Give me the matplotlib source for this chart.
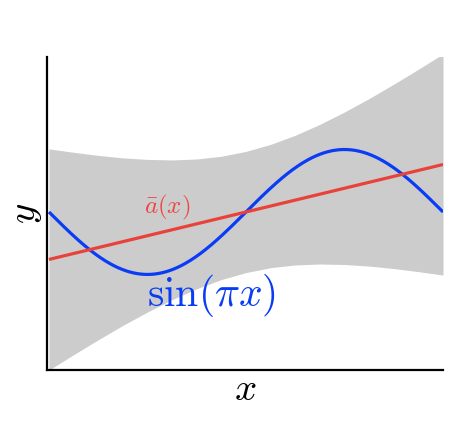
import numpy as np
import matplotlib
matplotlib.use("Agg")
import matplotlib.pyplot as plt

plt.rcParams['mathtext.fontset'] = 'cm'

# band (upper / lower edge at these x)
band_x = np.linspace(-1, 1, 17)
band_up = [1.01, 0.955, 0.906, 0.866, 0.841, 0.833, 0.848, 0.892, 0.97,
           1.082, 1.228, 1.403, 1.601, 1.816, 2.046, 2.285, 2.53]
band_lo = [-2.53, -2.285, -2.046, -1.816, -1.601, -1.403, -1.228, -1.082, -0.97,
           -0.892, -0.848, -0.833, -0.841, -0.866, -0.906, -0.955, -1.01]

# mean line a(x), end points
a_x = [-1, 1]
a_y = [-0.76, 0.76]

# the true function
xs = np.linspace(-1, 1, 400)
ys = np.sin(np.pi * xs)

red = '#e8423a'
blue = '#0a3cf5'

fig = plt.figure(figsize=(4.72, 4.29), dpi=100)
ax = fig.add_axes([0.0996, 0.1375, 0.839, 0.7295])

ax.fill_between(band_x, band_lo, band_up, color='#cccccc', lw=0)
ax.plot(xs, ys, color=blue, lw=2.3, solid_capstyle='butt')
ax.plot(a_x, a_y, color=red, lw=2.3, solid_capstyle='butt')

ax.text(-0.52, 0.08, r'$\bar{a}(x)$', color='#f04545', fontsize=18, va='center', ha='left')
ax.text(-0.50, -1.33, r'$\sin(\pi x)$', color=blue, fontsize=30, va='center', ha='left')

ax.set_xlim(-1.01, 1.0)
ax.set_ylim(-2.53, 2.48)
ax.set_xticks([])
ax.set_yticks([])
for s in ['top', 'right']:
    ax.spines[s].set_visible(False)
for s in ['left', 'bottom']:
    ax.spines[s].set_linewidth(1.6)
ax.set_xlabel(r'$x$', fontsize=28, labelpad=0)
ax.set_ylabel(r'$y$', fontsize=28, labelpad=2)

fig.savefig('out.png', dpi=100)
